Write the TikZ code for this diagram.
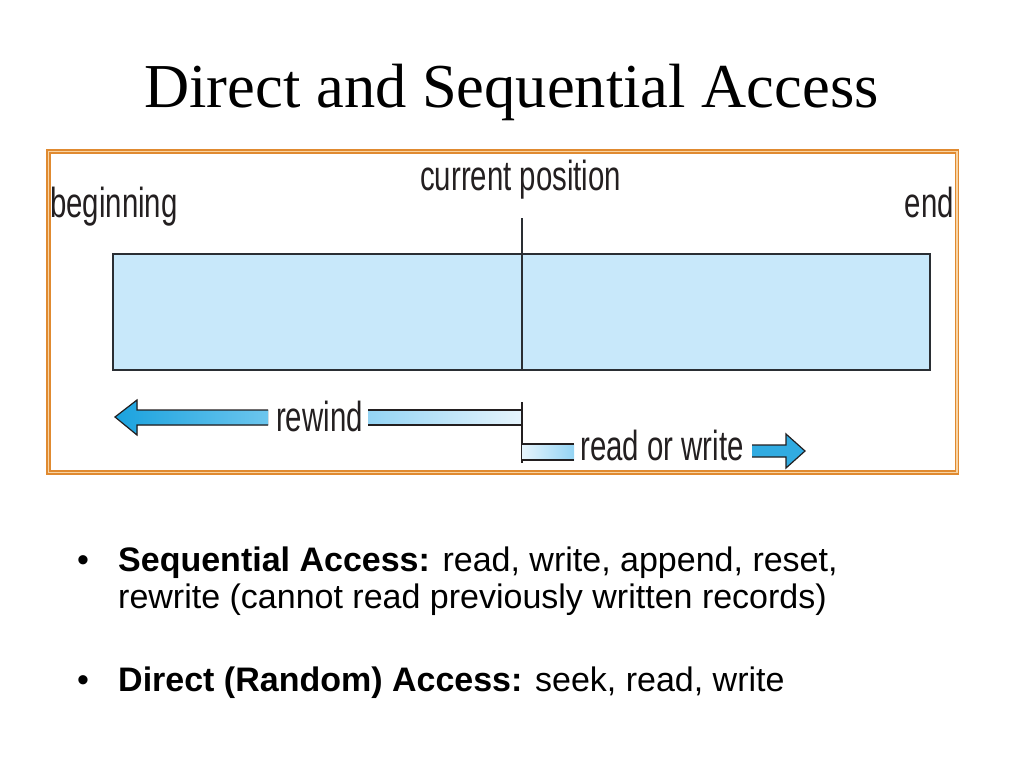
\documentclass[tikz,border=0pt]{standalone}
\usepackage{fontspec}
\setmainfont{Liberation Serif}
\setsansfont{Liberation Sans}
\newfontfamily\narrowsans[FakeStretch=0.70]{Liberation Sans}
\usetikzlibrary{positioning}

\definecolor{tapefill}{HTML}{C8E8FA}
\definecolor{tapeline}{HTML}{2A2E33}
\definecolor{labelgrey}{HTML}{231F20}
\definecolor{framedark}{HTML}{E08A30}
\definecolor{framelight}{HTML}{F8D4A4}
\definecolor{arrowdark}{HTML}{1AA2DE}
\definecolor{arrowmid}{HTML}{6CC6EE}
\definecolor{arrowpale}{HTML}{94D4F4}
\definecolor{arrowwhite}{HTML}{E6F4FC}

\tikzset{
  lbl/.style={inner sep=0pt, text=labelgrey, font=\narrowsans\fontsize{42}{42}\selectfont},
  bulletline/.style={inner sep=0pt, anchor=base west, font=\sffamily\fontsize{34}{36}\selectfont},
  edge/.style={draw=labelgrey, line width=1.2pt},
}

\begin{document}
\begin{tikzpicture}[x=1pt,y=-1pt]
  \useasboundingbox (0,0) rectangle (1024,768);

  % title
  \node (title) [inner sep=0pt, anchor=base, font=\fontsize{62.5}{62.5}\selectfont]
        at (511.5,107) {Direct and Sequential Access};

  % frame
  \draw [framedark, line width=1.6pt, double=framelight, double distance=1.2pt]
        (48.5,151.5) rectangle (957,472.5);

  % tape
  \node (tape) [draw=tapeline, line width=2pt, fill=tapefill,
        minimum width=817pt, minimum height=116pt, inner sep=0pt] at (521.5,311.5) {};
  \node (beginning) [lbl, anchor=base west] at (50,217) {beginning};
  \node (endlabel)  [lbl, anchor=base east] at (954,217) {end};
  \node (curpos)    [lbl, anchor=base west] at (420,190) {current position};
  \coordinate (postop) at (522,218);
  \draw [tapeline, line width=1.2pt] (postop) -- (postop |- tape.south);

  % rewind
  \node (rewind) [lbl, anchor=base west] at (276,431) {rewind};
  \fill [left color=arrowdark, right color=arrowmid]
        (115,417) -- (137,400) -- (137,410) -- (268,410) -- (268,425)
        -- (137,425) -- (137,435) -- cycle;
  \draw [edge] (268,410) -- (137,410) -- (137,400) -- (115,417)
        -- (137,435) -- (137,425) -- (268,425);
  \fill [left color=arrowpale, right color=arrowwhite] (368,410) rectangle (522,425);
  \draw [edge] (368,410) -- (522,410) (368,425) -- (522,425);

  % read or write
  \coordinate (tick) at (522,402);
  \draw [edge] (tick) -- ++(0,61);
  \fill [left color=arrowwhite, right color=arrowpale] (522,444) rectangle (574,460);
  \draw [edge] (522,444) -- (574,444) (522,460) -- (574,460);
  \node (readwrite) [lbl, anchor=base west] at (580,460) {read or write};
  \fill [arrowdark!90] (752,445) -- (786,445) -- (786,434) -- (805,451)
        -- (786,468) -- (786,457) -- (752,457) -- cycle;
  \draw [edge] (752,445) -- (786,445) -- (786,434) -- (805,451)
        -- (786,468) -- (786,457) -- (752,457);

  % bullets
  \node (dotA) [inner sep=0pt, anchor=base, font=\sffamily\fontsize{34}{36}\selectfont] at (83,571) {•};
  \node (seqA) [bulletline] at (118,571) {\textbf{Sequential Access:} read, write, append, reset,};
  \node (seqB) [bulletline] at (118,608) {rewrite (cannot read previously written records)};
  \node (dotB) [inner sep=0pt, anchor=base, font=\sffamily\fontsize{34}{36}\selectfont] at (83,691) {•};
  \node (dirA) [bulletline] at (118,691) {\textbf{Direct (Random) Access:} seek, read, write};
\end{tikzpicture}
\end{document}
